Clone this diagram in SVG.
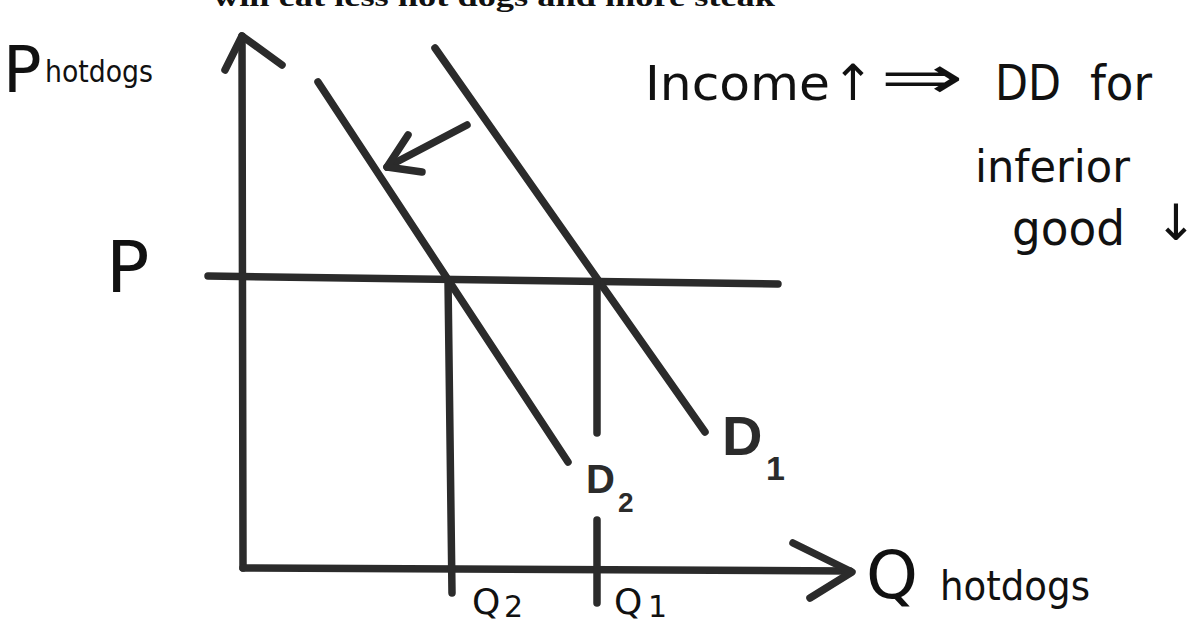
<svg xmlns="http://www.w3.org/2000/svg" width="1198" height="625" viewBox="0 0 1198 625">
<style>
.ln{stroke:#2b2b2b;stroke-width:7.5;fill:none;stroke-linecap:round;stroke-linejoin:round}
.hw{font-family:"DejaVu Sans","Liberation Sans",sans-serif;fill:#111;font-weight:normal}
.mk{font-family:"Liberation Sans","DejaVu Sans",sans-serif;fill:#2b2b2b;font-weight:bold}
.title{font-family:"Liberation Serif",serif;font-weight:bold;fill:#111}
</style>
<rect width="1198" height="625" fill="#ffffff"/>
<text class="title" x="213" y="6" font-size="28" textLength="562" lengthAdjust="spacingAndGlyphs">will eat less hot dogs and more steak</text>
<g id="connectors">
  <g id="y-axis">
    <path class="ln" d="M243,568 L242,36"/>
    <path class="ln" d="M225,70 L242,36 L282,65"/>
  </g>
  <g id="x-axis">
    <path class="ln" d="M243,568 L850,571"/>
    <path class="ln" d="M793,543 L852,572 L810,598"/>
  </g>
  <g id="price-line"><path class="ln" d="M208,276 L778,284"/></g>
  <g id="D2-curve"><path class="ln" d="M318,82 L568,462"/></g>
  <g id="D1-curve"><path class="ln" d="M435,48 L705,432"/></g>
  <g id="Q2-drop"><path class="ln" d="M448,280 L452,593"/></g>
  <g id="Q1-drop"><path class="ln" d="M597,282 L597,433"/><path class="ln" d="M597,520 L597,603"/></g>
  <g id="shift-arrow">
    <path class="ln" d="M467,125 L387,167"/>
    <path class="ln" d="M408,135 L387,167 L422,172"/>
  </g>
</g>
<g id="label-P-axis">
  <text class="hw" x="3" y="92" font-size="64">P</text>
  <text class="hw" x="45" y="82" font-size="30" textLength="108" lengthAdjust="spacingAndGlyphs">hotdogs</text>
</g>
<g id="label-P"><text class="hw" x="106" y="292" font-size="72">P</text></g>
<g id="note">
  <text class="hw" x="645" y="100" font-size="48" textLength="185" lengthAdjust="spacingAndGlyphs">Income</text>
  <text class="hw" x="832" y="100" font-size="50">↑</text>
  <text class="hw" x="880" y="98" font-size="60" textLength="84" lengthAdjust="spacingAndGlyphs">⇒</text>
  <text class="hw" x="995" y="100" font-size="50" textLength="66" lengthAdjust="spacingAndGlyphs">DD</text>
  <text class="hw" x="1090" y="100" font-size="48" textLength="62" lengthAdjust="spacingAndGlyphs">for</text>
  <text class="hw" x="975" y="182" font-size="44" textLength="155" lengthAdjust="spacingAndGlyphs">inferior</text>
  <text class="hw" x="1012" y="245" font-size="48" textLength="113" lengthAdjust="spacingAndGlyphs">good</text>
  <text class="hw" x="1155" y="240" font-size="50">↓</text>
</g>
<g id="label-D1">
  <text class="mk" x="722" y="455" font-size="56">D</text>
  <text class="mk" x="766" y="480" font-size="34">1</text>
</g>
<g id="label-D2">
  <text class="mk" x="586" y="493" font-size="40">D</text>
  <text class="mk" x="618" y="512" font-size="28">2</text>
</g>
<g id="label-Q2">
  <text class="hw" x="472" y="614" font-size="36">Q</text>
  <text class="hw" x="504" y="617" font-size="30">2</text>
</g>
<g id="label-Q1">
  <text class="hw" x="614" y="614" font-size="36">Q</text>
  <text class="hw" x="648" y="617" font-size="30">1</text>
</g>
<g id="label-Q-axis">
  <text class="hw" x="866" y="598" font-size="66">Q</text>
  <text class="hw" x="940" y="600" font-size="40" textLength="150" lengthAdjust="spacingAndGlyphs">hotdogs</text>
</g>
</svg>
